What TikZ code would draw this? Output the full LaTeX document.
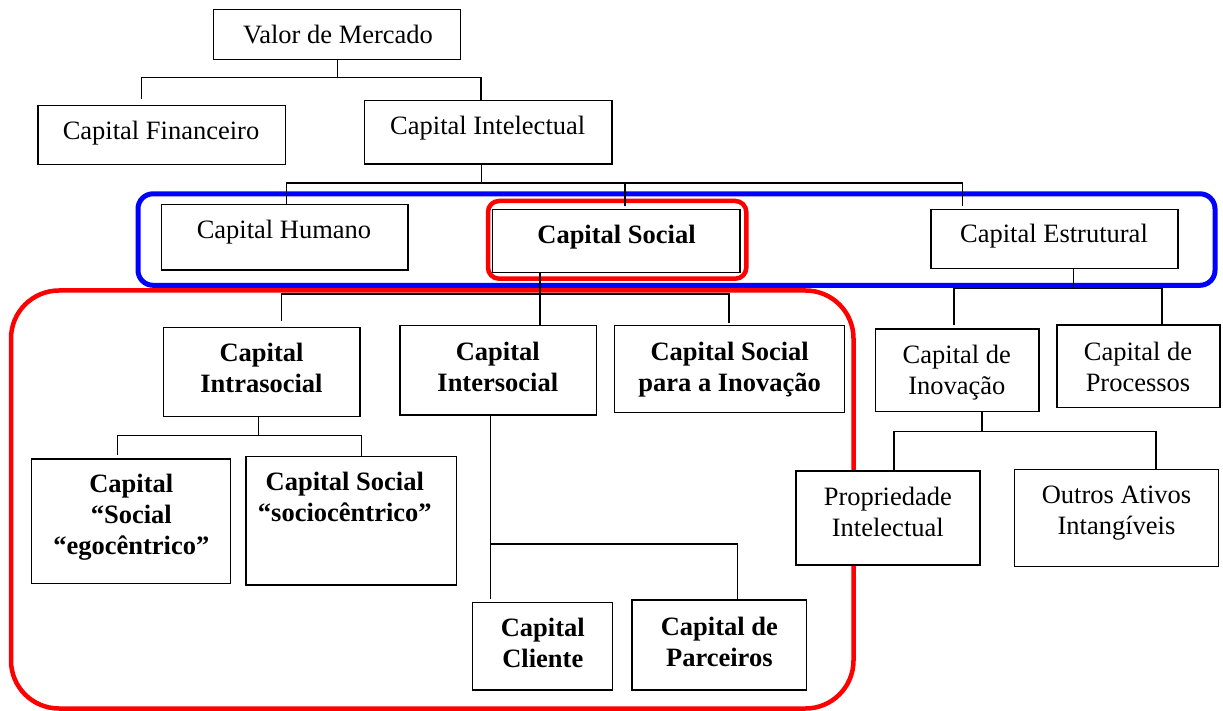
\documentclass[tikz,border=0pt]{standalone}
\usepackage{fontspec}
\setmainfont{Liberation Serif}
\usetikzlibrary{calc}
\newcommand{\mybox}[5]{\node[box, minimum width={(#4-#2)*1pt}, minimum height={(#5-#3)*1pt}] (#1) at ({(#2+#4)/2},{(#3+#5)/2}) {};}
\newcommand{\ml}[1]{\begin{tabular}[t]{@{}c@{}}#1\end{tabular}}
\begin{document}
\begin{tikzpicture}[x=1pt,y=-1pt,
  box/.style={draw=black, line width=1.4pt, fill=white, inner sep=0pt, outer sep=0pt, rectangle},
  txt/.style={anchor=base, inner sep=0pt, font=\fontsize{26.5}{31}\selectfont},
  btxt/.style={txt, font=\fontsize{26.5}{31}\selectfont\bfseries},
  conn/.style={draw=black, line width=1.1pt},
  groupblue/.style={draw=blue, line width=5pt, rounded corners=15pt},
  groupred/.style={draw=red, line width=4.5pt},
]
\useasboundingbox (0,0) rectangle (1223,711);

% group frames
\draw[groupred, rounded corners=48pt] (11,290.5) rectangle (853.5,708.5);
\draw[groupblue] (138,193.8) rectangle (1215,285.3);
\draw[groupred, rounded corners=11pt] (488,201) rectangle (746.3,278.7);

% boxes
\mybox{valor}{213.5}{9.3}{460.6}{59.3}
\mybox{fin}{38}{105.7}{285.5}{164.7}
\mybox{intel}{364.6}{100.7}{612}{164}
\mybox{hum}{161.7}{204.7}{408}{270}
\mybox{soc}{492.7}{209.3}{740}{272.7}
\mybox{estr}{931}{209.3}{1178}{268.3}
\mybox{intra}{163.3}{327.7}{359.8}{416.7}
\mybox{inter}{400}{325.7}{596.3}{415}
\mybox{csi}{614.7}{325.7}{844.3}{412.3}
\mybox{cinov}{875.3}{329}{1039}{411.7}
\mybox{proc}{1057}{325}{1219.8}{407.7}
\mybox{ego}{31.6}{459}{230.5}{583.3}
\mybox{socio}{246}{456.7}{456.7}{585}
\mybox{prop}{796}{471}{980}{565}
\mybox{outros}{1014.3}{469.3}{1218.3}{566.7}
\mybox{cli}{472.7}{602.7}{612.3}{690}
\mybox{parc}{632}{600}{806.7}{690}

% texts
\node[txt] (t-valor) at (338,43.3) {Valor de Mercado};
\node[txt] (t-fin) at (161,139.5) {Capital Financeiro};
\node[txt] (t-intel) at (487.7,134.5) {Capital Intelectual};
\node[txt] (t-hum) at (284,238.3) {Capital Humano};
\node[btxt] (t-soc) at (616.5,244) {Capital Social};
\node[txt] (t-estr) at (1054,242.7) {Capital Estrutural};
\node[btxt] (t-intra) at (261.5,361.7) {\ml{Capital\\Intrasocial}};
\node[btxt] (t-inter) at (497.8,360) {\ml{Capital\\Intersocial}};
\node[btxt] (t-csi) at (729.7,360) {\ml{Capital Social\\para a Inovação}};
\node[txt] (t-cinov) at (956.8,363.3) {\ml{Capital de\\Inovação}};
\node[txt] (t-proc) at (1138,360) {\ml{Capital de\\Processos}};
\node[btxt] (t-ego) at (131.3,492.7) {\ml{Capital\\“Social\\“egocêntrico”}};
\node[btxt] (t-socio) at (344.8,490.7) {\ml{Capital Social\\“sociocêntrico”}};
\node[txt] (t-prop) at (887.8,505) {\ml{Propriedade\\Intelectual}};
\node[txt] (t-outros) at (1116.5,503.5) {\ml{Outros Ativos\\Intangíveis}};
\node[btxt] (t-cli) at (542.8,636.7) {\ml{Capital\\Cliente}};
\node[btxt] (t-parc) at (719.3,635) {\ml{Capital de\\Parceiros}};

% junction coordinates
\coordinate (a0) at (337.05,77.5);
\coordinate (a1) at (141.6,77.5);
\coordinate (a2) at (481,77.5);
\coordinate (b0) at (481.6,183);
\coordinate (b1) at (286.7,183);
\coordinate (b2) at (625,183);
\coordinate (b3) at (962.7,183);
\coordinate (c0) at (540,294);
\coordinate (c1) at (281.5,294);
\coordinate (c2) at (729,294);
\coordinate (d0) at (1073.6,288.3);
\coordinate (d1) at (954,288.3);
\coordinate (d2) at (1162,288.3);
\coordinate (e0) at (258.6,435.5);
\coordinate (e1) at (117.4,435.5);
\coordinate (e2) at (361.8,435.5);
\coordinate (f1) at (490.7,544);
\coordinate (f2) at (737.7,544);
\coordinate (g0) at (982,431.7);
\coordinate (g1) at (894,431.7);
\coordinate (g2) at (1156,431.7);

% connectors
\draw[conn] (valor.south) -- (a0);
\draw[conn] ($(fin.north -| a1)+(0,-6.7)$) -- (a1) -- (a2) -- (intel.north -| a2);

\draw[conn] (intel.south -| b0) -- (b0);
\draw[conn] (hum.north -| b1) -- (b1) -- (b3) -- ($(estr.north -| b3)+(0,-3.3)$);
\draw[conn] (b2) -- ($(soc.north -| b2)+(0,-3.3)$);

\draw[conn] (soc.south -| c0) -- (inter.north -| c0);
\draw[conn] ($(intra.north -| c1)+(0,-6.7)$) -- (c1) -- (c2) -- ($(csi.north -| c2)+(0,-3)$);

\draw[conn] (estr.south -| d0) -- (d0);
\draw[conn] ($(cinov.north -| d1)+(0,-4)$) -- (d1) -- (d2) -- (proc.north -| d2);

\draw[conn] (intra.south -| e0) -- (e0);
\draw[conn] ($(ego.north -| e1)+(0,-4)$) -- (e1) -- (e2) -- ($(socio.north -| e2)+(0,-1)$);

\draw[conn] (inter.south -| f1) -- ($(cli.north -| f1)+(0,-4)$);
\draw[conn] (f1) -- (f2) -- (parc.north -| f2);

\draw[conn] (cinov.south -| g0) -- (g0);
\draw[conn] (prop.north -| g1) -- (g1) -- (g2) -- (outros.north -| g2);
\end{tikzpicture}
\end{document}
